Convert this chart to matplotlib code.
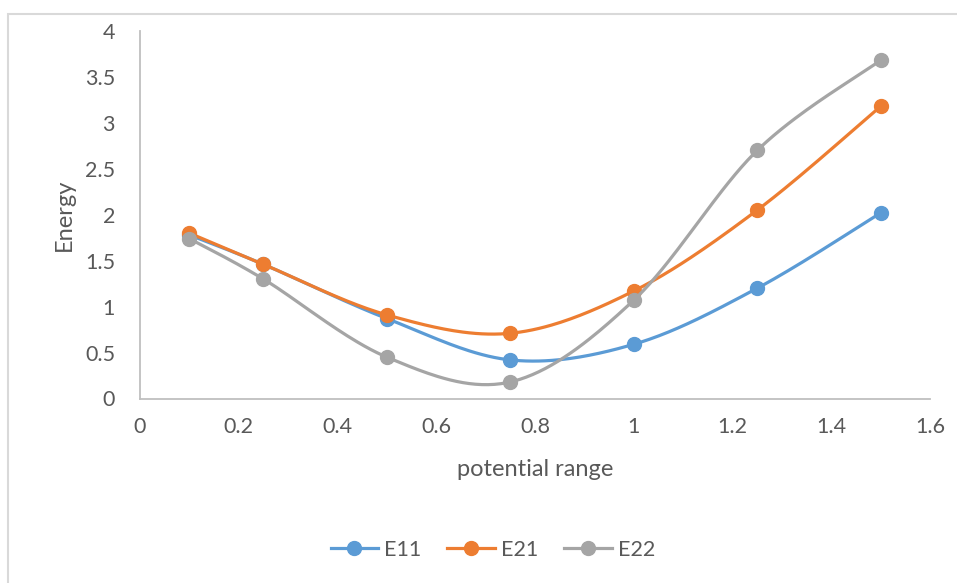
import numpy as np
import matplotlib.pyplot as plt
from matplotlib.patches import Rectangle

plt.rcParams['font.family'] = ['Lato', 'DejaVu Sans']

# data
x = [0.1, 0.25, 0.5, 0.75, 1.0, 1.25, 1.5]
e11 = [1.78, 1.46, 0.87, 0.42, 0.59, 1.20, 2.02]
e21 = [1.80, 1.46, 0.91, 0.71, 1.17, 2.05, 3.18]
e22 = [1.74, 1.30, 0.45, 0.18, 1.07, 2.70, 3.68]
names = ['E11', 'E21', 'E22']
colors = ['#5b9bd5', '#ed7d31', '#a5a5a5']

# pixels per unit, so the smoothing is done in screen space like Excel
SX, SY = 494.0, 92.0


def smooth(xs, ys, n=40):
    p = np.column_stack([np.array(xs) * SX, np.array(ys) * SY])
    out = []
    for i in range(len(p) - 1):
        p0 = p[i - 1] if i > 0 else p[i]
        p1, p2 = p[i], p[i + 1]
        p3 = p[i + 2] if i + 2 < len(p) else p[i + 1]
        c1 = p1 + (p2 - p0) / 6
        c2 = p2 - (p3 - p1) / 6
        t = np.linspace(0, 1, n)[:, None]
        seg = (1 - t) ** 3 * p1 + 3 * (1 - t) ** 2 * t * c1 + 3 * (1 - t) * t ** 2 * c2 + t ** 3 * p2
        out.append(seg if i == 0 else seg[1:])
    out = np.vstack(out)
    return out[:, 0] / SX, out[:, 1] / SY


fig = plt.figure(figsize=(9.57, 5.83), dpi=100)
fig.patches.append(Rectangle((8 / 957, -0.1), 1.2, 1 - 13.5 / 583 + 0.1,
                             transform=fig.transFigure, fill=False,
                             edgecolor='#d9d9d9', linewidth=1.5))
ax = fig.add_axes([140 / 957, 1 - 398.5 / 583, 790 / 957, 367.5 / 583])

for ys, name, c in zip([e11, e21, e22], names, colors):
    sx, sy = smooth(x, ys)
    ax.plot(sx, sy, color=c, linewidth=2.3, solid_capstyle='round')
    ax.plot(x, ys, 'o', color=c, markersize=10)
    ax.plot([], [], '-o', color=c, linewidth=2.3, markersize=10, label=name)

ax.set_xlim(0, 1.6)
ax.set_ylim(0, 4)
ax.set_xticks(np.arange(0, 1.61, 0.2))
ax.set_xticklabels(['0', '0.2', '0.4', '0.6', '0.8', '1', '1.2', '1.4', '1.6'])
ax.set_yticks(np.arange(0, 4.01, 0.5))
ax.set_yticklabels(['0', '0.5', '1', '1.5', '2', '2.5', '3', '3.5', '4'])
ax.tick_params(length=0, labelsize=15.5, labelcolor='#595959', pad=13)
ax.tick_params(axis='y', pad=18)
for s in ['top', 'right']:
    ax.spines[s].set_visible(False)
for s in ['left', 'bottom']:
    ax.spines[s].set_color('#bfbfbf')
    ax.spines[s].set_linewidth(1.3)

ax.set_xlabel('potential range', fontsize=17, color='#595959', labelpad=16)
ax.set_ylabel('Energy', fontsize=17, color='#595959', labelpad=7)

fig.legend(loc='center', bbox_to_anchor=(493 / 957, 1 - 550 / 583), ncol=3,
           frameon=False, fontsize=15.5, labelcolor='#595959', handlelength=2.2,
           columnspacing=1.2, handletextpad=0.3)

fig.savefig('out.png', dpi=100)
